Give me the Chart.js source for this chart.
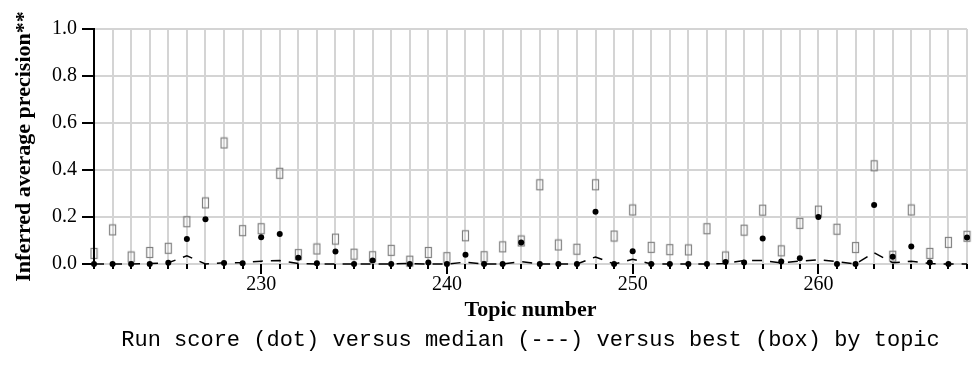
<!DOCTYPE html>
<html>
<head>
<meta charset="utf-8">
<script src="https://cdn.jsdelivr.net/npm/chart.js@4.4.0/dist/chart.umd.min.js"></script>
<style>
  body { margin: 0; background: #fff; }
  #wrap { width: 976px; height: 371px; }
</style>
</head>
<body>
<div id="wrap"><canvas id="topicchart"></canvas></div>
<script>
const topics = [221, 222, 223, 224, 225, 226, 227, 228, 229, 230, 231, 232, 233, 234, 235, 236,
  237, 238, 239, 240, 241, 242, 243, 244, 245, 246, 247, 248, 249, 250, 251, 252,
  253, 254, 255, 256, 257, 258, 259, 260, 261, 262, 263, 264, 265, 266, 267, 268];
const runScore = [0, 0, 0, 0, 0.005, 0.106, 0.19, 0.004, 0.003, 0.114, 0.128, 0.027, 0.003, 0.053, 0, 0.015,
  0, 0, 0.006, 0, 0.039, 0, 0, 0.092, 0, 0, 0, 0.222, 0, 0.054, 0, 0,
  0, 0, 0.008, 0.006, 0.109, 0.011, 0.025, 0.2, 0, 0, 0.251, 0.031, 0.074, 0.006, 0, 0.113];
const median = [0, 0, 0, 0.002, 0.005, 0.035, 0, 0.005, 0.006, 0.012, 0.015, 0.002, 0, 0, 0, 0,
  0, 0.002, 0, 0, 0.008, 0, 0, 0.01, 0, 0, 0, 0.03, 0, 0.02, 0, 0,
  0, 0, 0.002, 0.015, 0.015, 0.005, 0.012, 0.018, 0.01, 0, 0.048, 0.005, 0.012, 0.002, 0, 0];
const best = [0.045, 0.145, 0.03, 0.049, 0.067, 0.18, 0.26, 0.515, 0.142, 0.15, 0.386, 0.04, 0.064, 0.106, 0.042, 0.031,
  0.058, 0.012, 0.049, 0.027, 0.12, 0.031, 0.073, 0.098, 0.337, 0.081, 0.063, 0.337, 0.119, 0.23, 0.071, 0.061,
  0.06, 0.15, 0.03, 0.144, 0.229, 0.056, 0.173, 0.225, 0.148, 0.07, 0.418, 0.033, 0.23, 0.045, 0.092, 0.118];

const xMin = 221, xMax = 268;
const gridColor = '#d4d4d4';

// little outlined box used as the "best" marker
const boxImg = document.createElement('canvas');
boxImg.width = 9;
boxImg.height = 13;
const bctx = boxImg.getContext('2d');
bctx.strokeStyle = '#808080';
bctx.lineWidth = 1.2;
bctx.strokeRect(1.5, 1.5, 6, 10);

const pts = (vals) => topics.map((t, i) => ({ x: t, y: vals[i] }));

// major/minor tick marks on both axes
const tickMarks = {
  id: 'tickMarks',
  afterDraw(chart) {
    const c = chart.ctx;
    const x = chart.scales.x, y = chart.scales.y;
    const left = chart.chartArea.left, bottom = chart.chartArea.bottom;
    c.save();
    c.strokeStyle = '#000';
    c.lineWidth = 2;
    c.beginPath();
    for (const t of y.ticks) {
      const py = Math.round(y.getPixelForValue(t.value));
      const len = Math.round(t.value * 10) % 2 === 0 ? 12 : 5;
      c.moveTo(left - len, py);
      c.lineTo(left, py);
    }
    for (const t of x.ticks) {
      const px = Math.round(x.getPixelForValue(t.value));
      const len = Math.round(t.value) % 10 === 0 ? 10 : 5;
      c.moveTo(px, bottom);
      c.lineTo(px, bottom + len);
    }
    c.stroke();
    c.restore();
  }
};

const ctx = document.getElementById('topicchart').getContext('2d');
const myChart = new Chart(ctx, {
  type: 'scatter',
  data: {
    datasets: [
      {
        label: 'Run score',
        data: pts(runScore),
        backgroundColor: '#000',
        borderColor: '#000',
        pointRadius: 3,
        pointBorderWidth: 0,
        order: 0,
        clip: false
      },
      {
        label: 'Median',
        type: 'line',
        data: pts(median),
        borderColor: '#000',
        borderWidth: 1.5,
        borderDash: [10, 8],
        pointRadius: 0,
        fill: false,
        tension: 0,
        order: 1,
        clip: false
      },
      {
        label: 'Best',
        data: pts(best),
        pointStyle: boxImg,
        pointRadius: 5,
        order: 2,
        clip: false
      }
    ]
  },
  options: {
    responsive: true,
    maintainAspectRatio: false,
    animation: false,
    layout: { padding: { left: 0, right: 4, top: 25, bottom: 17.8 } },
    plugins: {
      legend: { display: false },
      tooltip: { enabled: false }
    },
    scales: {
      x: {
        type: 'linear',
        position: 'bottom',
        min: xMin,
        max: xMax,
        weight: 0,
        grid: { color: gridColor, lineWidth: 2, drawTicks: false },
        border: { color: gridColor, width: 2 },
        ticks: {
          stepSize: 1,
          autoSkip: false,
          maxTicksLimit: 100,
          maxRotation: 0,
          padding: 9,
          color: '#000',
          font: { family: 'Liberation Serif', size: 20 },
          callback: (v) => (v % 10 === 0 ? String(v) : '')
        },
        title: {
          display: true,
          text: 'Topic number',
          color: '#000',
          font: { family: 'Liberation Serif', size: 22, weight: 'bold' },
          padding: { top: -9, bottom: 0 }
        }
      },
      x2: {
        type: 'linear',
        position: 'bottom',
        min: xMin,
        max: xMax,
        weight: 1,
        grid: { display: false, drawTicks: false },
        border: { display: false },
        ticks: { display: false },
        title: {
          display: true,
          text: 'Run score (dot) versus median (---) versus best (box) by topic',
          color: '#000',
          font: { family: 'Liberation Mono', size: 22 },
          padding: { top: 3.4, bottom: 0 }
        }
      },
      y: {
        min: 0,
        max: 1,
        grid: { color: gridColor, lineWidth: 2, drawTicks: false },
        border: { color: '#000', width: 2, z: 1 },
        ticks: {
          stepSize: 0.1,
          padding: 17,
          color: '#000',
          font: { family: 'Liberation Serif', size: 20 },
          callback: (v) => (Math.round(v * 10) % 2 === 0 ? v.toFixed(1) : '')
        },
        title: {
          display: true,
          text: 'Inferred average precision**',
          color: '#000',
          font: { family: 'Liberation Serif', size: 22, weight: 'bold' },
          padding: { top: 11, bottom: 0 }
        },
        afterFit: (scale) => { scale.width = 94; }
      }
    }
  },
  plugins: [tickMarks]
});
</script>
</body>
</html>
